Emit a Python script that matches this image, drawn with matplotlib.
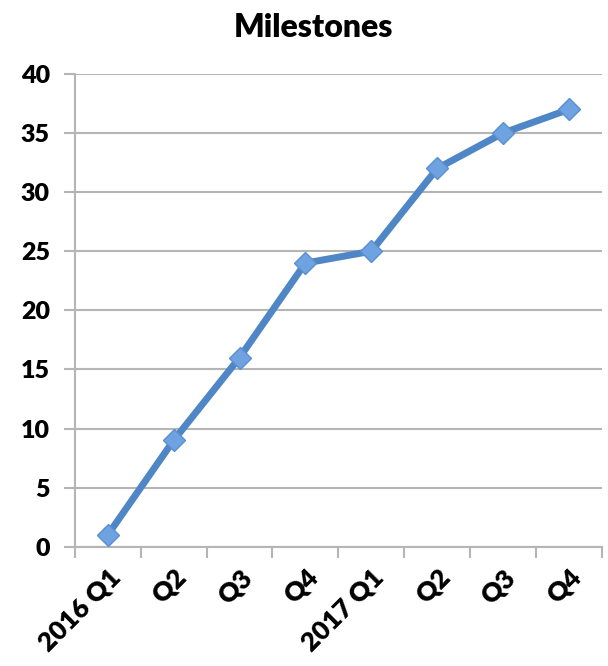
import numpy as np
import matplotlib.pyplot as plt
from matplotlib.ticker import FixedLocator

plt.rcParams['font.family'] = ['Lato', 'DejaVu Sans']

quarters = ['2016 Q1', 'Q2', 'Q3', 'Q4', '2017 Q1', 'Q2', 'Q3', 'Q4']
milestones = [1, 9, 16, 24, 25, 32, 35, 37]

fig = plt.figure(figsize=(6.08, 6.66), dpi=100)
ax = fig.add_axes([0.123, 0.179, 0.867, 0.710])

x = np.arange(len(quarters))
ax.plot(x, milestones, color='#4F86C6', lw=5, solid_joinstyle='round',
        marker='D', markersize=11, markerfacecolor='#6EA2E0',
        markeredgecolor='#5A8FD0', markeredgewidth=1, zorder=3)

ax.set_xlim(-0.5, len(quarters) - 0.5)
ax.set_ylim(0, 40)
ax.set_yticks(range(0, 41, 5))
ax.yaxis.grid(True, color='#B5B5B5', lw=1.5)
ax.set_axisbelow(True)

ax.set_xticks(x)
ax.set_xticklabels(quarters, rotation=45, ha='right', rotation_mode='anchor',
                   fontsize=19, fontweight='heavy')
ax.xaxis.set_minor_locator(FixedLocator(np.arange(-0.5, len(quarters), 1)))
ax.tick_params(axis='x', which='major', length=0, pad=13)
ax.tick_params(axis='x', which='minor', length=8, width=1.5, color='#B5B5B5')
ax.tick_params(axis='y', length=8, width=1.5, color='#B5B5B5', labelsize=18, pad=10)
for lbl in ax.get_yticklabels():
    lbl.set_fontweight('heavy')

for side in ['top', 'right']:
    ax.spines[side].set_visible(False)
for side in ['left', 'bottom']:
    ax.spines[side].set_color('#B5B5B5')
    ax.spines[side].set_linewidth(1.5)

fig.text(0.516, 0.958, 'Milestones', ha='center', va='center',
         fontsize=23, fontweight='heavy')

fig.savefig('out.png', dpi=100)
